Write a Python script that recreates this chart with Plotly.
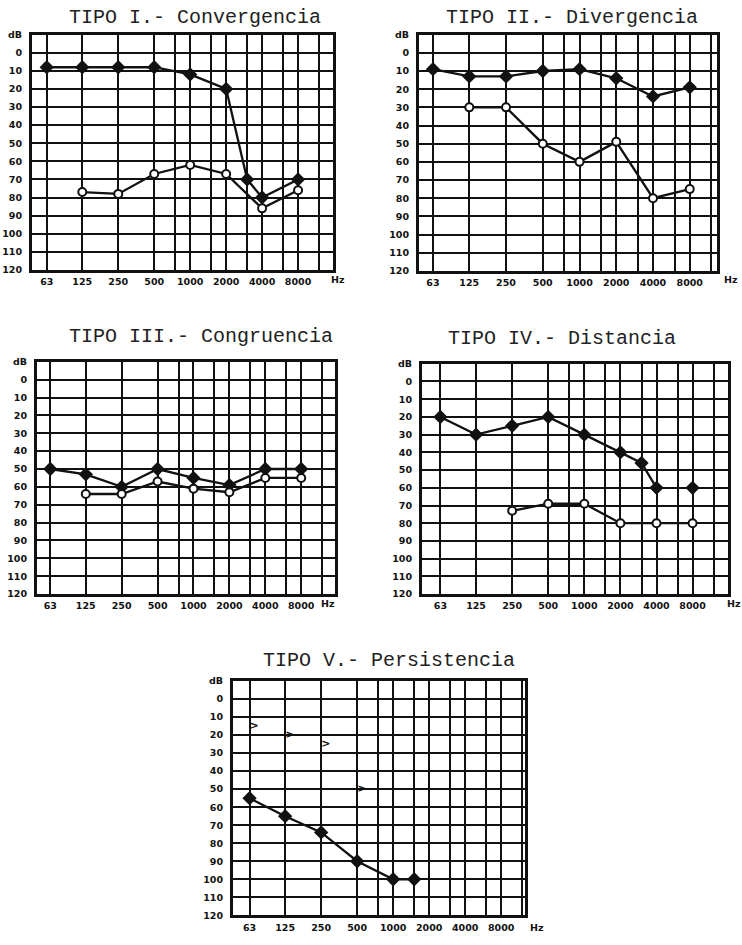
import math
import plotly.graph_objects as go

# ---------------- data ----------------
freq_ticks = [63, 125, 250, 500, 750, 1000, 1500, 2000, 3000, 4000, 6000, 8000, 12000]
freq_labels = ["63", "125", "250", "500", "", "1000", "", "2000", "", "4000", "", "8000", ""]
db_ticks = list(range(-10, 121, 10))
db_labels = ["dB"] + [str(v) for v in range(0, 121, 10)]

titles = ["TIPO I.- Convergencia", "TIPO II.- Divergencia",
          "TIPO III.- Congruencia", "TIPO IV.- Distancia",
          "TIPO V.- Persistencia"]

# Tipo I - Convergencia
p1_fill_f = [63, 125, 250, 500, 1000, 2000, 3000, 4000, 8000]
p1_fill_db = [8, 8, 8, 8, 12, 20, 70, 80, 70]
p1_open_f = [125, 250, 500, 1000, 2000, 4000, 8000]
p1_open_db = [77, 78, 67, 62, 67, 86, 76]

# Tipo II - Divergencia
p2_fill_f = [63, 125, 250, 500, 1000, 2000, 4000, 8000]
p2_fill_db = [9, 13, 13, 10, 9, 14, 24, 19]
p2_open_f = [125, 250, 500, 1000, 2000, 4000, 8000]
p2_open_db = [30, 30, 50, 60, 49, 80, 75]

# Tipo III - Congruencia
p3_fill_f = [63, 125, 250, 500, 1000, 2000, 4000, 8000]
p3_fill_db = [50, 53, 60, 50, 55, 59, 50, 50]
p3_open_f = [125, 250, 500, 1000, 2000, 4000, 8000]
p3_open_db = [64, 64, 57, 61, 63, 55, 55]

# Tipo IV - Distancia
p4_fill_f = [63, 125, 250, 500, 1000, 2000, 3000, 4000, 6000, 8000]
p4_fill_db = [20, 30, 25, 20, 30, 40, 46, 60, None, 60]
p4_open_f = [250, 500, 1000, 2000, 4000, 8000]
p4_open_db = [73, 69, 69, 80, 80, 80]

# Tipo V - Persistencia
p5_fill_f = [63, 125, 250, 500, 1000, 1500]
p5_fill_db = [55, 65, 74, 90, 100, 100]
p5_mark_f = [63, 125, 250, 500]
p5_mark_db = [15, 20, 25, 50]

# ---------------- layout geometry (pixels) ----------------
W, H = 742, 945
panels = [
    dict(box=(32, 333, 29, 267), oct=(-0.41, 7.96), hz=(338, 277), title=(195, 12)),
    dict(box=(419, 717, 29, 268), oct=(-0.38, 7.73), hz=(731, 277), title=(572, 12)),
    dict(box=(37, 335, 360, 595), oct=(-0.37, 7.93), hz=(328, 605), title=(201, 334)),
    dict(box=(422, 728, 362, 595), oct=(-0.51, 7.97), hz=(734, 605), title=(562, 336)),
    dict(box=(233, 525, 683, 920), oct=(-0.46, 7.65), hz=(537, 932), title=(389, 662)),
]

series = [
    (p1_fill_f, p1_fill_db, p1_open_f, p1_open_db),
    (p2_fill_f, p2_fill_db, p2_open_f, p2_open_db),
    (p3_fill_f, p3_fill_db, p3_open_f, p3_open_db),
    (p4_fill_f, p4_fill_db, p4_open_f, p4_open_db),
    (p5_fill_f, p5_fill_db, None, None),
]

INK = "#111111"
tick_font = dict(family="DejaVu Sans", size=9.5, color=INK, weight="bold")
title_font = dict(family="Liberation Mono", size=20, color="#222222")

fig = go.Figure()
annotations = []
base = math.log10(63)
l2 = math.log10(2)

for i, (p, s) in enumerate(zip(panels, series), start=1):
    xa = "x" if i == 1 else f"x{i}"
    ya = "y" if i == 1 else f"y{i}"
    ff, fd, of, od = s
    fig.add_trace(go.Scatter(
        x=ff, y=fd, xaxis=xa, yaxis=ya, mode="lines+markers",
        connectgaps=False,
        line=dict(color=INK, width=2.3),
        marker=dict(symbol="diamond", size=11, color=INK),
        hoverinfo="x+y"))
    if of is not None:
        fig.add_trace(go.Scatter(
            x=of, y=od, xaxis=xa, yaxis=ya, mode="lines+markers",
            line=dict(color=INK, width=2.3),
            marker=dict(symbol="circle", size=8, color="white",
                        line=dict(color=INK, width=2)),
            hoverinfo="x+y"))
    if i == 5:
        fig.add_trace(go.Scatter(
            x=p5_mark_f, y=p5_mark_db, xaxis=xa, yaxis=ya, mode="text",
            text=[">"] * len(p5_mark_f), textposition="middle right",
            textfont=dict(family="DejaVu Sans", size=11, color=INK, weight="bold"),
            hoverinfo="x+y"))

    l, r, t, b = p["box"]
    lo, hi = p["oct"]
    xkey = "xaxis" if i == 1 else f"xaxis{i}"
    ykey = "yaxis" if i == 1 else f"yaxis{i}"
    fig.update_layout(**{
        xkey: dict(
            type="log", domain=[l / W, r / W],
            range=[base + lo * l2, base + hi * l2],
            anchor=ya, tickmode="array", tickvals=freq_ticks, ticktext=freq_labels,
            showgrid=True, gridcolor=INK, gridwidth=2.3,
            showline=True, mirror=True, linecolor=INK, linewidth=3,
            ticks="", ticklabelstandoff=1, tickfont=tick_font, zeroline=False,
            fixedrange=True),
        ykey: dict(
            domain=[1 - b / H, 1 - t / H], range=[120, -10], anchor=xa,
            tickmode="array", tickvals=db_ticks, ticktext=db_labels,
            showgrid=True, gridcolor=INK, gridwidth=2.2,
            showline=True, mirror=True, linecolor=INK, linewidth=3,
            ticks="", ticklabelstandoff=5, tickfont=tick_font, zeroline=False,
            fixedrange=True),
    })
    hx, hy = p["hz"]
    annotations.append(dict(text="Hz", xref="paper", yref="paper",
                            x=hx / W, y=1 - hy / H, xanchor="center", yanchor="middle",
                            showarrow=False, font=tick_font))
    tx, ty = p["title"]
    annotations.append(dict(text=titles[i - 1], xref="paper", yref="paper",
                            x=tx / W, y=1 - ty / H, xanchor="center", yanchor="middle",
                            showarrow=False, font=title_font))

fig.update_layout(
    width=W, height=H, margin=dict(l=0, r=0, t=0, b=0),
    paper_bgcolor="white", plot_bgcolor="white", showlegend=False,
    annotations=annotations)

fig.write_html("out.html", config={"displayModeBar": False},
               post_script="document.body.style.margin='0';document.body.style.overflow='hidden';")
